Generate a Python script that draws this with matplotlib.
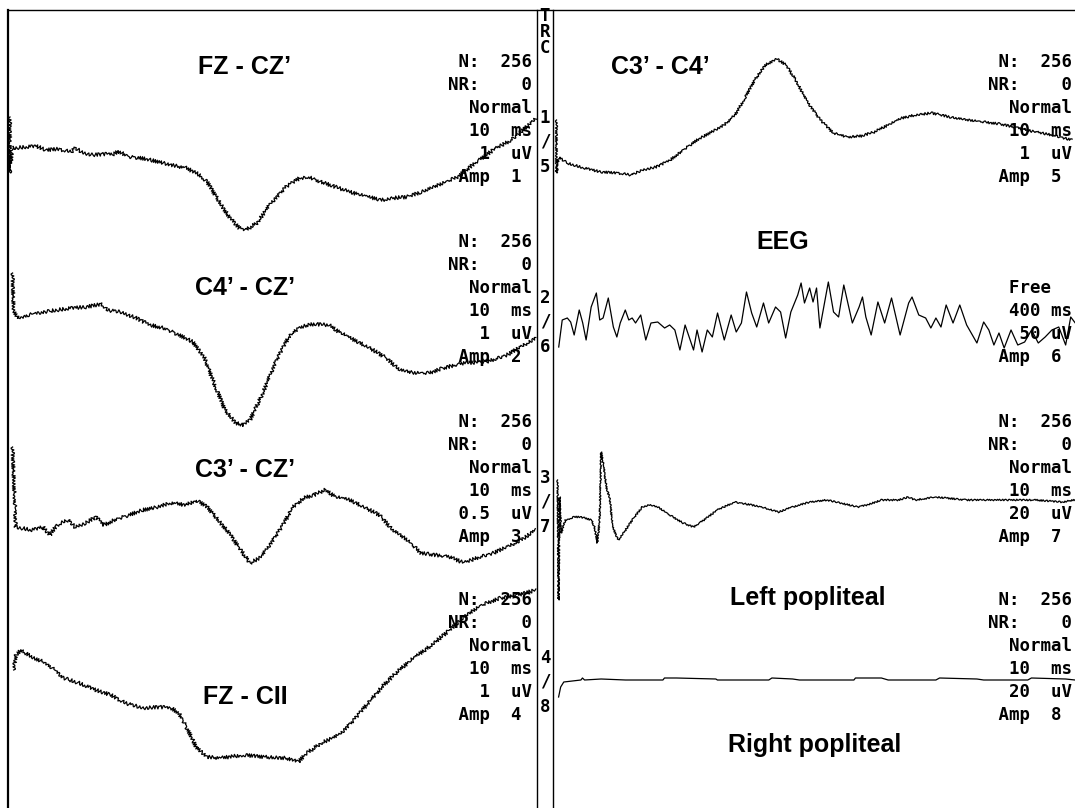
import matplotlib
matplotlib.use("Agg")
import matplotlib.pyplot as plt

W, H = 1075, 808

# ---------------- left panel: 10 ms/div, 0-100 ms, amplitude in display units ----------------
fz_cz_t = [0, 0, 0.4, 0.8, 2.9, 5.0, 6.9, 9.2, 11.7, 12.4, 14.1, 15.9, 18.0, 19.9, 20.7, 22.8,
           24.9, 26.8, 28.7, 30.8, 33.7, 36.3, 37.7, 39.8, 41.9, 43.8, 45.1, 47.2, 49.9, 52.8,
           55.4, 57.6, 59.5, 62.3, 65.0, 68.5, 71.1, 73.2, 75.9, 78.6, 82.0, 85.5, 88.9, 92.4,
           95.8, 99.2, 100.6]
fz_cz_a = [3.3, -2.3, 0.2, 0.2, 0.3, 0.4, 0.0, 0.1, -0.2, 0.2, -0.3, -0.5, -0.4, -0.4, -0.1, -0.7,
           -0.8, -1.0, -1.2, -1.5, -1.8, -2.5, -3.2, -5.0, -6.7, -7.8, -8.0, -7.3, -5.3, -3.7,
           -2.8, -2.8, -3.2, -3.7, -4.2, -4.7, -5.0, -4.8, -4.7, -4.2, -3.5, -2.7, -1.3, 0.0,
           1.0, 2.5, 3.2]

c4_cz_t = [0.5, 0.7, 1.5, 3.6, 6.3, 9.0, 11.7, 14.5, 17.6, 18.5, 21.2, 24.1, 26.8, 29.4, 32.3,
           35.0, 37.1, 39.0, 41.1, 43.2, 44.6, 45.9, 48.0, 50.7, 53.3, 55.4, 58.1, 61.0, 62.3,
           65.0, 68.5, 71.9, 74.6, 77.2, 80.1, 82.8, 86.8, 91.0, 95.0, 99.2, 100.6]
c4_cz_a = [4.2, 0.5, -0.3, 0.0, 0.3, 0.5, 0.7, 0.8, 1.1, 0.5, 0.3, -0.3, -1.0, -1.3, -2.0,
           -2.7, -4.2, -6.8, -9.5, -10.8, -11.0, -10.5, -8.2, -4.8, -2.2, -1.2, -0.9, -1.0, -1.5,
           -2.3, -3.2, -4.3, -5.5, -5.8, -5.8, -5.3, -4.8, -4.7, -4.0, -2.7, -2.3]

c3_cz_t = [0.5, 1.1, 2.1, 4.2, 6.3, 7.6, 9.0, 11.1, 12.4, 14.5, 16.4, 18.0, 19.9, 22.8, 25.4,
           28.1, 30.8, 33.7, 35.6, 37.7, 39.8, 41.9, 43.8, 45.9, 48.0, 49.9, 52.0, 54.1, 56.2,
           58.1, 60.2, 62.3, 65.0, 67.7, 70.6, 73.2, 75.9, 78.6, 81.5, 84.1, 86.8, 89.7, 92.4,
           95.0, 97.7, 100.6]
c3_cz_a = [8.3, 0.3, 0.2, 0.0, 0.3, -0.5, 0.5, 1.0, 0.3, 0.7, 1.3, 0.5, 1.0, 1.5, 2.0,
           2.3, 2.7, 2.5, 3.0, 2.3, 1.0, -0.3, -1.8, -3.3, -2.7, -1.3, 0.3, 2.3, 3.2,
           3.5, 4.0, 3.3, 3.0, 2.3, 1.5, 0.0, -1.0, -2.3, -2.5, -2.7, -3.3, -2.7, -2.3,
           -1.7, -1.0, 0.0]

fz_cii_t = [0.7, 1.1, 2.1, 4.2, 6.9, 10.3, 13.2, 16.4, 19.3, 22.0, 25.4, 28.9, 30.8, 32.3, 33.7,
            35.6, 37.7, 40.3, 44.6, 48.6, 52.8, 55.1, 56.8, 59.5, 62.9, 65.8, 68.5, 71.1, 73.8,
            76.7, 80.1, 83.4, 86.8, 90.2, 93.7, 97.1, 100.6]
fz_cii_a = [3.0, 4.5, 5.0, 4.3, 3.7, 2.2, 1.7, 1.0, 0.5, -0.3, -0.8, -0.7, -0.8, -1.3, -2.7,
            -4.7, -5.7, -5.8, -5.5, -5.7, -5.8, -6.2, -5.3, -4.3, -3.5, -2.0, -0.3, 1.3, 2.7,
            4.0, 5.3, 6.7, 8.3, 9.5, 10.2, 10.5, 11.0]

# ---------------- right panel ----------------
c3_c4_t = [0.1, 0.1, 0.6, 2.1, 5.4, 8.7, 11.9, 14.6, 16.6, 19.3, 22.0, 24.5, 27.2, 29.9, 32.4,
           34.5, 36.4, 38.3, 40.3, 42.6, 44.3, 46.2, 48.2, 50.9, 53.4, 56.1, 58.8, 61.3, 64.0,
           66.7, 69.2, 72.4, 75.9, 79.2, 82.5, 85.7, 89.0, 92.3, 95.6, 99.4]
c3_c4_a = [3.0, -2.3, -0.7, -1.3, -1.8, -2.2, -2.3, -2.5, -2.0, -1.7, -1.0, 0.0, 1.0, 1.8, 2.5,
           3.5, 5.2, 7.0, 8.5, 9.1, 8.5, 7.0, 5.0, 3.0, 1.7, 1.3, 1.4, 1.8, 2.5,
           3.2, 3.5, 3.7, 3.3, 3.0, 2.8, 2.6, 2.2, 1.8, 1.5, 1.0]

# EEG: free run, 400 ms/div -> seconds
eeg_t = [0.021, 0.048, 0.087, 0.113, 0.140, 0.179, 0.206, 0.232, 0.271, 0.311, 0.337, 0.363,
         0.403, 0.442, 0.469, 0.495, 0.534, 0.561, 0.587, 0.613, 0.653, 0.692, 0.732, 0.784,
         0.837, 0.876, 0.916, 0.955, 0.995, 1.034, 1.060, 1.087, 1.126, 1.166, 1.205, 1.245,
         1.297, 1.350, 1.389, 1.429, 1.468, 1.508, 1.547, 1.599, 1.639, 1.692, 1.731, 1.770,
         1.810, 1.863, 1.889, 1.915, 1.955, 1.981, 2.008, 2.034, 2.099, 2.139, 2.178, 2.218,
         2.284, 2.336, 2.362, 2.388, 2.429, 2.481, 2.533, 2.586, 2.652, 2.718, 2.744, 2.796,
         2.849, 2.889, 2.928, 2.967, 3.007, 3.060, 3.112, 3.165, 3.244, 3.296, 3.336, 3.375,
         3.414, 3.454, 3.507, 3.559, 3.612, 3.665, 3.717, 3.770, 3.822, 3.875, 3.928, 3.967,
         4.002]
eeg_a = [-2.2, 0.5, 0.7, 0.3, -1.0, 1.5, 0.2, -1.5, 1.8, 3.2, 0.5, 0.7,
         2.7, -0.2, -1.2, 0.2, 1.5, 0.5, 0.7, 0.2, 1.0, -1.5, 0.2, 0.3,
         -0.3, 0.0, -0.5, -2.5, 0.0, -1.5, -2.5, -0.5, -2.7, -0.5, -1.2, 1.2,
         -1.5, 1.0, -0.7, 0.2, 3.3, 1.2, -0.2, 2.2, 0.2, 1.8, 1.3, -1.3,
         1.3, 3.0, 4.2, 2.2, 3.7, 2.3, 3.7, -0.3, 4.3, 1.3, 0.8, 4.0,
         0.2, 1.8, 2.8, 0.8, -1.0, 2.3, 0.2, 2.7, -1.0, 2.2, 2.8, 1.0,
         0.7, -0.3, 0.7, -0.2, 2.0, 0.2, 2.0, 0.0, -1.8, 0.3, -0.5, -2.0,
         -0.8, -2.3, -0.5, -2.0, -1.7, -0.5, -1.8, -1.2, -0.5, -0.2, -2.0, 0.8,
         0.2]

left_pop_t = [0.3, 0.5, 0.7, 1.0, 1.8, 3.5, 4.5, 5.5, 6.8, 7.4, 8.0, 8.4, 8.7, 9.2, 9.7, 10.4,
              10.9, 12.0, 13.4, 14.7, 16.6, 18.0, 19.6, 21.9, 24.5, 26.5, 28.5, 31.1, 34.4,
              37.7, 40.3, 42.9, 45.6, 48.9, 52.2, 54.8, 58.1, 60.0, 62.7, 66.0, 67.9, 69.2,
              73.2, 79.1, 85.7, 92.3, 97.5, 100.0]
left_pop_a = [4.0, -8.0, 2.3, -1.3, 0.0, 0.3, 0.3, 0.2, 0.0, -0.7, -2.3, 0.0, 6.8, 5.3, 3.3, 2.0,
              -0.7, -2.0, -1.0, 0.0, 1.3, 1.5, 1.3, 0.5, -0.3, -0.7, 0.0, 1.0, 1.8,
              1.5, 1.2, 0.8, 1.3, 1.8, 2.0, 1.7, 1.3, 1.5, 2.0, 2.0, 2.3, 2.0,
              2.3, 2.0, 2.0, 2.0, 1.8, 2.0]

right_pop_t = [0.5, 0.9, 1.5, 4.8, 5.1, 5.5, 8.7, 13.4, 20.6, 20.9, 23.2, 30.8, 31.1, 41.0, 41.6,
               45.6, 46.9, 57.4, 57.7, 62.7, 64.0, 73.2, 73.9, 81.1, 82.4, 90.9, 91.6, 98.2,
               100.0]
right_pop_a = [-1.7, -0.7, -0.2, 0.0, 0.2, 0.0, 0.1, 0.0, 0.0, 0.2, 0.2, 0.1, 0.0, 0.0, 0.2,
               0.1, 0.0, 0.0, 0.2, 0.2, 0.0, 0.0, 0.2, 0.1, 0.0, 0.0, 0.2, 0.1,
               0.0]

titles = ["FZ - CZ\u2019", "C4\u2019 - CZ\u2019", "C3\u2019 - CZ\u2019", "FZ - CII",
          "C3\u2019 - C4\u2019", "EEG", "Left popliteal", "Right popliteal"]
left_info = [
    [" N:  256", "NR:    0", "  Normal", "  10  ms", "   1  uV", " Amp  1"],
    [" N:  256", "NR:    0", "  Normal", "  10  ms", "   1  uV", " Amp  2"],
    [" N:  256", "NR:    0", "  Normal", "  10  ms", " 0.5  uV", " Amp  3"],
    [" N:  256", "NR:    0", "  Normal", "  10  ms", "   1  uV", " Amp  4"],
]
right_info = [
    [" N:  256", "NR:    0", "  Normal", "  10  ms", "   1  uV", " Amp  5"],
    ["", "", "  Free", "  400 ms", "   50 uV", " Amp  6"],
    [" N:  256", "NR:    0", "  Normal", "  10  ms", "  20  uV", " Amp  7"],
    [" N:  256", "NR:    0", "  Normal", "  10  ms", "  20  uV", " Amp  8"],
]
chan_nums = [("1", "5"), ("2", "6"), ("3", "7"), ("4", "8")]

# ---------------- figure ----------------
fig = plt.figure(figsize=(W / 100, H / 100), dpi=100)
fig.patch.set_facecolor("white")


def px_axes(x0, y0, x1, y1):
    ax = fig.add_axes([x0 / W, 1 - y1 / H, (x1 - x0) / W, (y1 - y0) / H])
    ax.set_axis_off()
    ax.patch.set_alpha(0)
    return ax


frame = px_axes(0, 0, W, H)
frame.set_xlim(0, W)
frame.set_ylim(H, 0)

# frame lines
kw = dict(color="black", lw=1.0)
frame.plot([8, W], [10, 10], **kw)
frame.plot([8, 8], [10, H], color="black", lw=1.6)
frame.plot([537, 537], [10, H], **kw)
frame.plot([553, 553], [10, H], **kw)

mono = dict(family="DejaVu Sans Mono", weight="bold", size=12.5, color="black")
for i, ch in enumerate("TRC"):
    frame.text(545, 16 + 16 * i, ch, ha="center", va="center", **mono)

row_h = 23
info_top = [62, 242, 422, 600]
for k in range(4):
    for j, s in enumerate(left_info[k]):
        frame.text(448, info_top[k] + row_h * j, s, ha="left", va="center", **mono)
    for j, s in enumerate(right_info[k]):
        frame.text(988, info_top[k] + row_h * j, s, ha="left", va="center", **mono)
    y_mid = [118, 298, 478, 658][k]
    a, b = chan_nums[k]
    frame.text(545, y_mid, a, ha="center", va="center", **mono)
    frame.text(545, y_mid + 24, "/", ha="center", va="center", **mono)
    frame.text(545, y_mid + 49, b, ha="center", va="center", **mono)

title_pos = [(245, 67), (245, 288), (245, 470), (245, 697),
             (660, 67), (783, 242), (808, 598), (815, 745)]
for s, (x, y) in zip(titles, title_pos):
    frame.text(x, y, s, ha="center", va="center", family="Liberation Sans",
               weight="bold", size=18)

# ---------------- traces ----------------
left_traces = [(fz_cz_t, fz_cz_a, 150), (c4_cz_t, c4_cz_a, 315),
               (c3_cz_t, c3_cz_a, 530), (fz_cii_t, fz_cii_a, 700)]
right_traces = [(c3_c4_t, c3_c4_a, 150, 100, 1.2), (eeg_t, eeg_a, 325, 4.0, 0),
                (left_pop_t, left_pop_a, 520, 100, 0.8), (right_pop_t, right_pop_a, 680, 100, 0)]

for t, a, base in left_traces:
    ax = px_axes(10, base - 150, 533, base + 150)
    ax.set_xlim(0, 100)
    ax.set_ylim(-15, 15)
    ln, = ax.plot(t, a, color="black", lw=0.9, clip_on=False)
    ln.set_sketch_params(1.8, 3, 2)

for t, a, base, tmax, rough in right_traces:
    ax = px_axes(556, base - 150, 1075, base + 150)
    ax.set_xlim(0, tmax)
    ax.set_ylim(-15, 15)
    ln, = ax.plot(t, a, color="black", lw=0.9, clip_on=False)
    if rough:
        ln.set_sketch_params(rough, 3, 2)

fig.savefig("out.png", dpi=100, facecolor="white")
